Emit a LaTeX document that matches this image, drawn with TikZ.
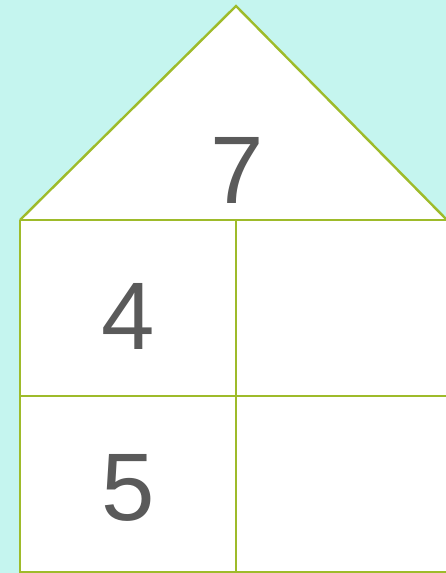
\documentclass[tikz,border=0pt]{standalone}
\usepackage{fontspec}
\setmainfont{Liberation Sans}
\usetikzlibrary{positioning}
\definecolor{sky}{HTML}{C5F5EF}
\definecolor{wall}{HTML}{9EBB2A}
\definecolor{digit}{HTML}{5A5A5A}

\begin{document}
\begin{tikzpicture}[x=1pt,y=-1pt,
  line/.style={wall,line width=2.4pt},
  num/.style={font=\fontsize{96}{96}\selectfont,text=digit,inner sep=0pt}]
  % background
  \fill[sky] (0,0) rectangle (446,573);
  \useasboundingbox (0,0) rectangle (446,573);

  % roof
  \coordinate (apex) at (236,6);
  \coordinate (eaveL) at (20,220);
  \coordinate (eaveR) at (447,220);
  \filldraw[line,fill=white,line join=miter] (eaveL) -- (apex) -- (eaveR);

  % walls
  \fill[white] (20,220) rectangle (447,572);
  \draw[line] (eaveL) -- (eaveR);
  \draw[line] (20,220) -- (20,572) -- (447,572);
  \draw[line] (236,220) -- (236,572);
  \draw[line] (20,396) -- (447,396);

  % numbers
  \node[num] (top) at (237,170) {7};
  \node[num] (left1) at (128,316) {4};
  \node[num] (left2) at (128,488) {5};
\end{tikzpicture}
\end{document}
